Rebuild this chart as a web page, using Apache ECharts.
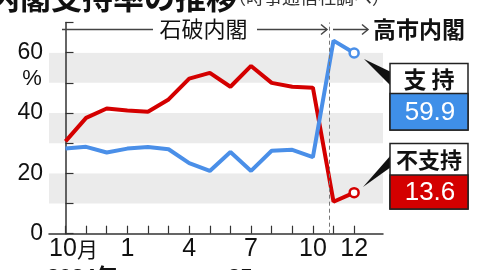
<!DOCTYPE html>
<html><head><meta charset="utf-8">
<script src="https://cdn.jsdelivr.net/npm/echarts@6/dist/echarts.min.js"></script>
<style>html,body{margin:0;padding:0;background:#fff}#c{width:480px;height:270px}</style>
</head><body><div id="c"></div>
<script>
// months counted from Oct 2024 (=0) to Dec 2025 (=14)
const months = [0,1,2,3,4,5,6,7,8,9,10,11,12,13,14];
const support = [28.2,28.8,26.9,28.2,28.7,28.0,23.4,20.8,27.1,20.8,27.5,27.8,25.4,64.0,59.9];
const nonSupport = [30.6,38.4,41.5,40.8,40.4,44.5,51.4,53.3,48.7,55.6,50.0,48.7,48.4,10.6,13.6];
const labelMonths = [0,3,6,9,12,14];
const monthLabels = ['10','1','4','7','10','12'];
const yLabelValues = [0,20,40,60];
const cabinetChange = 12.8;
const lastSupport = '59.9';
const lastNonSupport = '13.6';

const BLUE = '#4a8fe8', RED = '#d40000', AX = '#333';
const CJK = '"Noto Sans CJK JP", sans-serif';

function pts(vals, color){
  return vals.map((v,i)=> i===vals.length-1
    ? {value:[months[i],v], symbol:'circle', symbolSize:9,
       itemStyle:{color:'#fff', borderColor:color, borderWidth:2.5}}
    : {value:[months[i],v], symbol:'none'});
}

const chart = echarts.init(document.getElementById('c'), null, {renderer:'canvas'});
chart.setOption({
  animation:false,
  grid:{left:49, right:97, top:22.5, bottom:36.3},
  xAxis:{type:'value', min:-0.8, max:15.4,
    axisLine:{lineStyle:{color:AX,width:1.5}},
    axisTick:{inside:true,length:8,customValues:months,lineStyle:{color:AX,width:1.2}},
    axisLabel:{customValues:labelMonths, margin:3, color:'#111',
      fontFamily:'"Liberation Sans Narrow","Liberation Sans",'+CJK, fontSize:25,
      formatter:function(v){const i=labelMonths.indexOf(Math.round(v)); if(i<0) return '';
        return i===0 ? '{sp|}'+monthLabels[0]+'{m|月}' : monthLabels[i];},
      rich:{sp:{width:16}, m:{fontSize:21, fontFamily:CJK, color:'#111'}}},
    splitLine:{show:false}},
  yAxis:{type:'value', min:0, max:70, interval:10,
    axisLine:{show:true,lineStyle:{color:AX,width:1.5}},
    axisTick:{show:true,inside:true,length:8,lineStyle:{color:AX,width:1.2}},
    axisLabel:{color:'#111', fontFamily:'"Liberation Sans", Arial, sans-serif', fontSize:23, margin:6,
      formatter:function(v){return yLabelValues.indexOf(v)>=0 ? String(v) : '';}},
    splitLine:{show:false},
    splitArea:{show:true, areaStyle:{color:['#ffffff','#ebebeb']}}},
  series:[
    {type:'line', name:'不支持', data:pts(nonSupport,RED), lineStyle:{color:RED,width:4},
     itemStyle:{color:RED}, showSymbol:true, z:3,
     markLine:{silent:true, symbol:'none', label:{show:false},
       lineStyle:{color:'#777', width:1, type:[4,3]},
       data:[{xAxis:cabinetChange}]}},
    {type:'line', name:'支持', data:pts(support,BLUE), lineStyle:{color:BLUE,width:4},
     itemStyle:{color:BLUE}, showSymbol:true, z:4}
  ],
  graphic:{elements:[
    {type:'text', z:100, style:{text:'内閣支持率の推移', x:-11, y:-3, textVerticalAlign:'middle',
      font:'bold 31px '+CJK, fill:'#111'}},
    {type:'text', z:100, style:{text:'（時事通信社調べ）', x:228, y:-3, textVerticalAlign:'middle',
      font:'18px '+CJK, fill:'#333'}},
    {type:'text', z:100, style:{text:'%', x:32, y:79, textAlign:'center', textVerticalAlign:'middle',
      font:'22px "Liberation Sans", sans-serif', fill:'#111'}},
    // top cabinet annotation
    {type:'line', z:100, shape:{x1:62,y1:29.5,x2:153,y2:29.5}, style:{stroke:'#444',lineWidth:1.5}},
    {type:'text', z:100, style:{text:'石破内閣', x:203.5, y:29, textAlign:'center', textVerticalAlign:'middle',
      font:'22px '+CJK, fill:'#111'}},
    {type:'line', z:100, shape:{x1:257,y1:29.5,x2:327,y2:29.5}, style:{stroke:'#444',lineWidth:1.5}},
    {type:'polyline', z:100, shape:{points:[[321,24.5],[327,29.5],[321,34.5]]}, style:{stroke:'#444',lineWidth:1.5,fill:null}},
    {type:'line', z:100, shape:{x1:333,y1:29.5,x2:368,y2:29.5}, style:{stroke:'#444',lineWidth:1.5}},
    {type:'polyline', z:100, shape:{points:[[362,24.5],[368,29.5],[362,34.5]]}, style:{stroke:'#444',lineWidth:1.5,fill:null}},
    {type:'text', z:100, style:{text:'高市内閣', x:373, y:29, textVerticalAlign:'middle',
      font:'bold 23px '+CJK, fill:'#111'}},
    // support callout
    {type:'polygon', z:100, shape:{points:[[364,59],[391,72],[391,86]]}, style:{fill:'#111'}},
    {type:'rect', z:100, shape:{x:390,y:63.5,width:78,height:66.5}, style:{fill:'#fff',stroke:'#222',lineWidth:1.5}},
    {type:'rect', z:100, shape:{x:390,y:93.5,width:78,height:36.5}, style:{fill:'#3f8fe8',stroke:'#222',lineWidth:1.5}},
    {type:'text', z:101, style:{text:'支 持', x:429, y:79, textAlign:'center', textVerticalAlign:'middle',
      font:'bold 23px '+CJK, fill:'#111'}},
    {type:'text', z:101, style:{text:lastSupport, x:430, y:112.5, textAlign:'center', textVerticalAlign:'middle',
      font:'26px "Liberation Sans", sans-serif', fill:'#fff'}},
    // non-support callout
    {type:'polygon', z:100, shape:{points:[[363,187],[391,155],[391,167]]}, style:{fill:'#111'}},
    {type:'rect', z:100, shape:{x:390,y:143.5,width:78,height:65.5}, style:{fill:'#fff',stroke:'#222',lineWidth:1.5}},
    {type:'rect', z:100, shape:{x:390,y:175,width:78,height:34}, style:{fill:RED,stroke:'#222',lineWidth:1.5}},
    {type:'text', z:101, style:{text:'不支持', x:429, y:159.5, textAlign:'center', textVerticalAlign:'middle',
      font:'bold 22px '+CJK, fill:'#111'}},
    {type:'text', z:101, style:{text:lastNonSupport, x:430, y:192.5, textAlign:'center', textVerticalAlign:'middle',
      font:'26px "Liberation Sans", sans-serif', fill:'#fff'}},
    // year labels (cut at bottom)
    {type:'text', z:100, style:{text:'2024年', x:47, y:267, textVerticalAlign:'top',
      font:'bold 22px "Liberation Sans",'+CJK, fill:'#111'}},
    {type:'text', z:100, style:{text:'25', x:228, y:267, textVerticalAlign:'top',
      font:'bold 22px "Liberation Sans",'+CJK, fill:'#111'}}
  ]}
});
</script></body></html>
